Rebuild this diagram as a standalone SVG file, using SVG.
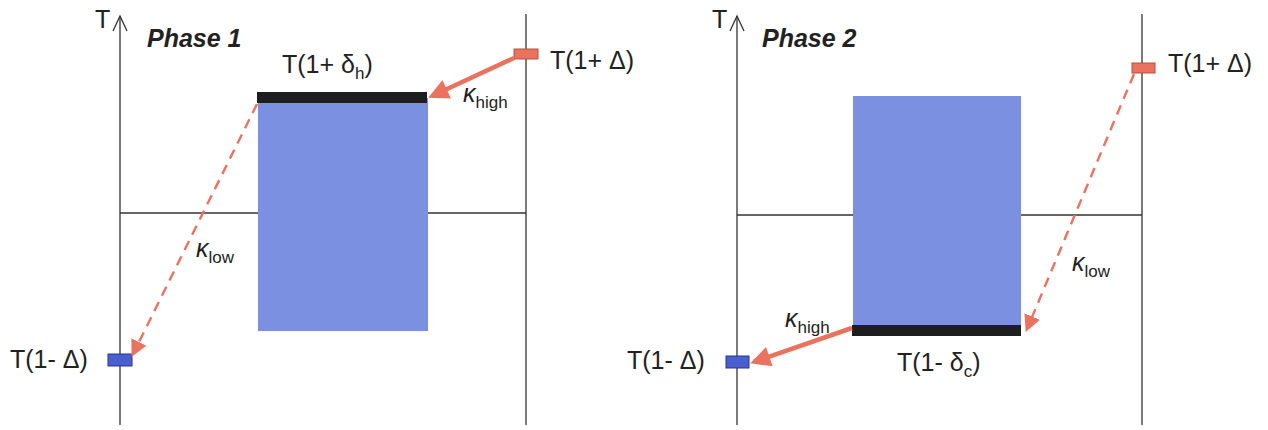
<svg xmlns="http://www.w3.org/2000/svg" width="1268" height="430" viewBox="0 0 1268 430">
<style>
.ax{stroke:#333;stroke-width:1.3;fill:none}
.tip{stroke:#333;stroke-width:1.3;fill:none}
.big{fill:#7c90e2}
.bar{fill:#1e1e1e}
.hot{fill:#e9735e;stroke:#b5523f;stroke-width:1}
.cold{fill:#4a5fcf;stroke:#2a358a;stroke-width:1}
.solid{stroke:#e9735e;stroke-width:4.5;fill:none}
.dash{stroke:#e9735e;stroke-width:2.4;fill:none;stroke-dasharray:10 7}
text{font-family:"Liberation Sans",Arial,sans-serif;fill:#222}
.lbl{font-size:25px}
.ph{font-size:25px;font-weight:bold;font-style:italic}
.sub{font-size:17px}
</style>
<defs>
<marker id="ah" viewBox="0 0 10 10" refX="8" refY="5" markerWidth="5" markerHeight="4.5" orient="auto" markerUnits="strokeWidth"><path d="M0,0 L10,5 L0,10 z" fill="#e9735e"/></marker>
<marker id="ahd" viewBox="0 0 10 10" refX="8" refY="5" markerWidth="7" markerHeight="7" orient="auto" markerUnits="strokeWidth"><path d="M0,0 L10,5 L0,10 z" fill="#e9735e"/></marker>
</defs>

<g id="panel1-axes">
<line class="ax" x1="120" y1="16" x2="120" y2="425"/>
<path class="tip" d="M113,31 L120,16 L127,31"/>
<line class="ax" x1="526" y1="14" x2="526" y2="425"/>
<line class="ax" x1="120" y1="213" x2="526" y2="213"/>
<text class="lbl" x="95" y="28">T</text>
</g>
<g id="phase1-title"><text class="ph" x="147" y="47">Phase 1</text></g>
<g id="block1">
<rect class="big" x="258" y="98" width="170" height="233"/>
<rect class="bar" x="257" y="92" width="170" height="11"/>
<text class="lbl" x="282" y="73">T(1+ δ<tspan class="sub" dy="6">h</tspan><tspan dy="-6">)</tspan></text>
</g>
<g id="hot1">
<rect class="hot" x="514" y="49" width="24" height="10"/>
<text class="lbl" x="550" y="69">T(1+ Δ)</text>
</g>
<g id="cold1">
<rect class="cold" x="108" y="354" width="24" height="12"/>
<text class="lbl" x="10" y="368">T(1- Δ)</text>
</g>

<g id="panel2-axes">
<line class="ax" x1="737" y1="16" x2="737" y2="425"/>
<path class="tip" d="M730,31 L737,16 L744,31"/>
<line class="ax" x1="1142" y1="14" x2="1142" y2="425"/>
<line class="ax" x1="737" y1="215" x2="1142" y2="215"/>
<text class="lbl" x="712" y="28">T</text>
</g>
<g id="phase2-title"><text class="ph" x="762" y="47">Phase 2</text></g>
<g id="block2">
<rect class="big" x="853" y="96" width="168" height="232"/>
<rect class="bar" x="852" y="325" width="169" height="11"/>
<text class="lbl" x="897" y="371">T(1- δ<tspan class="sub" dy="6">c</tspan><tspan dy="-6">)</tspan></text>
</g>
<g id="hot2">
<rect class="hot" x="1132" y="63" width="23" height="10"/>
<text class="lbl" x="1168" y="72">T(1+ Δ)</text>
</g>
<g id="cold2">
<rect class="cold" x="726" y="356" width="23" height="12"/>
<text class="lbl" x="627" y="369">T(1- Δ)</text>
</g>

<g id="connectors">
<line class="solid" x1="514" y1="58" x2="432" y2="96" marker-end="url(#ah)"/>
<line class="dash" x1="257" y1="104" x2="133" y2="354" marker-end="url(#ahd)"/>
<line class="solid" x1="852" y1="328" x2="754" y2="362" marker-end="url(#ah)"/>
<line class="dash" x1="1134" y1="74" x2="1027" y2="329" marker-end="url(#ahd)"/>
<text class="lbl" x="463" y="102"><tspan font-style="italic">κ</tspan><tspan class="sub" dy="6">high</tspan></text>
<text class="lbl" x="196" y="257"><tspan font-style="italic">κ</tspan><tspan class="sub" dy="6">low</tspan></text>
<text class="lbl" x="785" y="327"><tspan font-style="italic">κ</tspan><tspan class="sub" dy="6">high</tspan></text>
<text class="lbl" x="1072" y="271"><tspan font-style="italic">κ</tspan><tspan class="sub" dy="6">low</tspan></text>
</g>
</svg>
